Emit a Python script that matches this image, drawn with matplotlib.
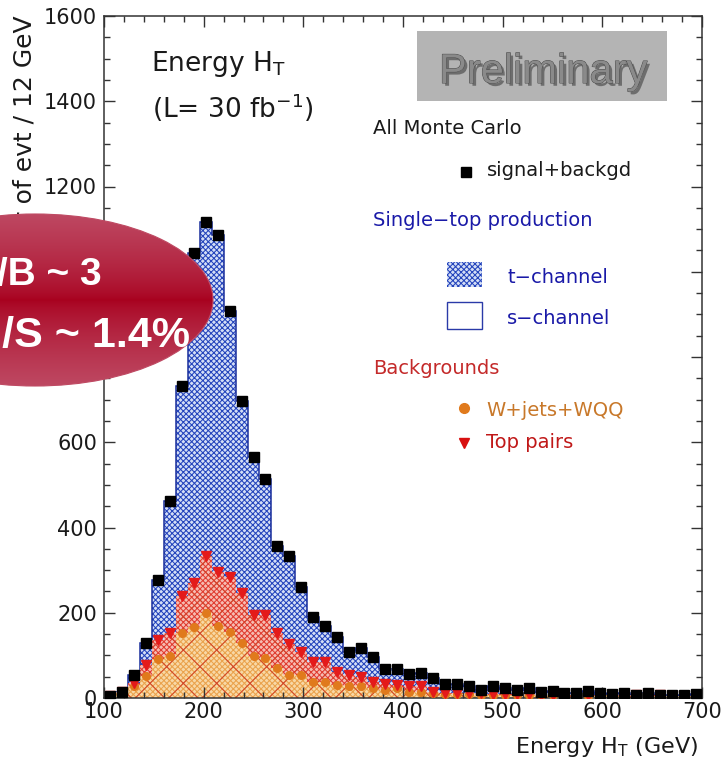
import numpy as np
import matplotlib
matplotlib.use('Agg')
import matplotlib.pyplot as plt
from matplotlib.patches import Ellipse, Rectangle
from matplotlib.ticker import MultipleLocator
import matplotlib.patheffects as pe

W, H = 726, 759

# H_T histogram, 12 GeV bins from 100 to 700 GeV
edges = np.arange(100, 701, 12)

# all MC, signal + background
total = [5, 14, 55, 129, 278, 462, 732, 1045, 1116, 1087,
         908, 697, 566, 514, 357, 332, 260, 190, 168, 143,
         109, 117, 97, 67, 67, 56, 59, 46, 34, 34,
         28, 19, 27, 23, 19, 24, 15, 17, 12, 12,
         17, 12, 10, 12, 8, 12, 8, 6, 8, 9]

# single top s-channel
schan = [0, 0, 1, 2, 4, 6, 9, 12, 13, 13,
         11, 9, 7, 6, 5, 4, 3, 3, 2, 2,
         2, 2, 1, 1, 1, 1, 1, 1, 1, 1,
         0, 0, 0, 0, 0, 0, 0, 0, 0, 0,
         0, 0, 0, 0, 0, 0, 0, 0, 0, 0]

# W+jets+WQQ
wjets = [5, 12, 27, 52, 91, 99, 153, 166, 200, 169,
         156, 128, 99, 93, 70, 54, 54, 38, 38, 30,
         27, 27, 23, 19, 23, 15, 15, 12, 9, 9,
         9, 8, 7, 8, 6, 7, 6, 6, 5, 6,
         5, 5, 6, 4, 5, 4, 5, 4, 4, 4]

# top pairs
ttbar = [0, 1, 9, 25, 45, 53, 86, 103, 132, 127,
         127, 118, 96, 102, 83, 72, 55, 47, 47, 32,
         27, 22, 15, 15, 7, 13, 12, 3, 3, 3,
         3, 3, 3, 2, 3, 2, 2, 2, 2, 2,
         2, 2, 1, 2, 1, 2, 1, 1, 1, 1]

total = np.array(total)
schan = np.array(schan)
wjets = np.array(wjets)
ttbar = np.array(ttbar)
bkg = wjets + ttbar
tch_top = total - schan
centers = edges[:-1] + 6

BLUE = '#2444bc'
BLUE_BG = '#d4def6'
TXT = '#1a1a1a'
plt.rcParams['hatch.linewidth'] = 0.75

fig = plt.figure(figsize=(W / 100, H / 100), dpi=100)
ax = fig.add_axes([104 / W, 1 - 698 / H, 598 / W, 682 / H])

# stacked histograms, each filled from zero
ax.stairs(tch_top, edges, baseline=0, fill=True, facecolor=BLUE_BG,
          edgecolor=BLUE, hatch='xxxxxx', linewidth=0, zorder=1)
ax.stairs(total, edges, baseline=tch_top, fill=True, facecolor='white',
          linewidth=0, zorder=1.1)
ax.stairs(total, edges, baseline=0, color='#1a2f9c', linewidth=1.1, zorder=1.2)
ax.stairs(bkg, edges, baseline=0, fill=True, facecolor='#f6bcb2',
          edgecolor='#e03c30', hatch='xxxxxx', linewidth=0, zorder=1.3)
ax.stairs(wjets, edges, baseline=0, fill=True, facecolor='#f8d8a6',
          edgecolor='#eaa24c', hatch='xxxxxx', linewidth=0, zorder=1.4)
ax.stairs(bkg, edges, baseline=0, fill=True, facecolor='none',
          edgecolor='#d2452a', hatch='x', linewidth=0, zorder=1.45)

ax.plot(centers, wjets, 'o', color='#e07a1c', ms=5.5, zorder=3)
ax.plot(centers, bkg, 'v', color='#e41a1a', ms=6.5, zorder=3.1)
ax.plot(centers, total, 's', color='black', ms=6.5, zorder=3.2)

ax.set_xlim(100, 700)
ax.set_ylim(0, 1600)
ax.xaxis.set_major_locator(MultipleLocator(100))
ax.xaxis.set_minor_locator(MultipleLocator(20))
ax.yaxis.set_major_locator(MultipleLocator(200))
ax.yaxis.set_minor_locator(MultipleLocator(50))
ax.tick_params(which='both', direction='in', top=True, right=True,
               width=1, colors='#333333', labelcolor=TXT, labelsize=15)
ax.tick_params(which='major', length=8)
ax.tick_params(which='minor', length=4.5)
ax.tick_params(axis='x', pad=3)
ax.tick_params(axis='y', pad=5)
for s in ax.spines.values():
    s.set_linewidth(1.1)
    s.set_color('#333333')

fig.text(25 / W, 1 - 15 / H, 'Number of evt / 12 GeV', rotation=90,
         ha='center', va='top', fontsize=18, color=TXT)

# overlay in pixel coordinates for labels, legend and the boxes
ov = fig.add_axes([0, 0, 1, 1], zorder=10)
ov.axis('off')

ov.text(151, 71, r'Energy H$_{\mathrm{T}}$', fontsize=19, color=TXT, va='baseline')
ov.text(152, 118, r'(L= 30 fb$^{-1}$)', fontsize=19, color=TXT, va='baseline')
ov.text(698, 753, r'Energy H$_{\mathrm{T}}$ (GeV)', fontsize=16, color=TXT,
        ha='right', va='baseline')

ov.add_patch(Rectangle((417, 31), 250, 70, facecolor='#b4b4b4', edgecolor='none'))
ov.text(543, 83, 'Preliminary', fontsize=30, family='Liberation Sans',
        color='#8a8a8a', ha='center', va='baseline',
        path_effects=[pe.SimplePatchShadow(offset=(2, -2), shadow_rgbFace='#505050', alpha=0.7),
                      pe.Stroke(linewidth=0.7, foreground='#4a4a4a'), pe.Normal()])

lg = 14
ov.text(373, 134, 'All Monte Carlo', fontsize=lg, color=TXT, va='baseline')
ov.plot([466], [172], 's', color='black', ms=7)
ov.text(487, 176, 'signal+backgd', fontsize=lg, color=TXT, va='baseline')
ov.text(373, 226, 'Single\u2212top production', fontsize=lg, color='#1a1aa8', va='baseline')
ov.add_patch(Rectangle((447, 262), 35, 25, facecolor=BLUE_BG, edgecolor=BLUE,
                       hatch='xxxxxx', linewidth=0))
ov.text(507, 283, 't\u2212channel', fontsize=lg, color='#1a1aa8', va='baseline')
ov.add_patch(Rectangle((447, 302), 35, 27, facecolor='white', edgecolor='#2a3aa8',
                       linewidth=1))
ov.text(507, 324, 's\u2212channel', fontsize=lg, color='#1a1aa8', va='baseline')
ov.text(373, 374, 'Backgrounds', fontsize=lg, color='#c42a2a', va='baseline')
ov.plot([464], [408], 'o', color='#e07a1c', ms=7)
ov.text(486, 416, 'W+jets+WQQ', fontsize=lg, color='#c8782a', va='baseline')
ov.plot([464], [443], 'v', color='#d81010', ms=7)
ov.text(486, 448, 'Top pairs', fontsize=lg, color='#c01818', va='baseline')

# red ellipse with the S/B numbers
ell = Ellipse((35, 300), 356, 172, facecolor='none', edgecolor='#bf4a63', linewidth=0.8)
ov.add_patch(ell)
t = np.abs(np.linspace(-1, 1, 256)) ** 0.7
dark = np.array([0xa8, 0x00, 0x1e]) / 255
light = np.array([0xbe, 0x48, 0x62]) / 255
grad = dark[None, :] + t[:, None] * (light - dark)[None, :]
im = ov.imshow(grad[:, None, :], extent=(-143, 213, 386, 214), aspect='auto',
               interpolation='bilinear')
im.set_clip_path(ell)
ov.text(102, 285, 'S/B ~ 3', fontsize=28, fontweight='bold', family='Liberation Sans',
        color='white', ha='right', va='baseline')
ov.text(190, 347, '\u221a(S+B)/S ~ 1.4%', fontsize=31, fontweight='bold',
        family='Liberation Sans', color='white', ha='right', va='baseline')

ov.set_xlim(0, W)
ov.set_ylim(H, 0)

fig.savefig('out.png', dpi=100)
